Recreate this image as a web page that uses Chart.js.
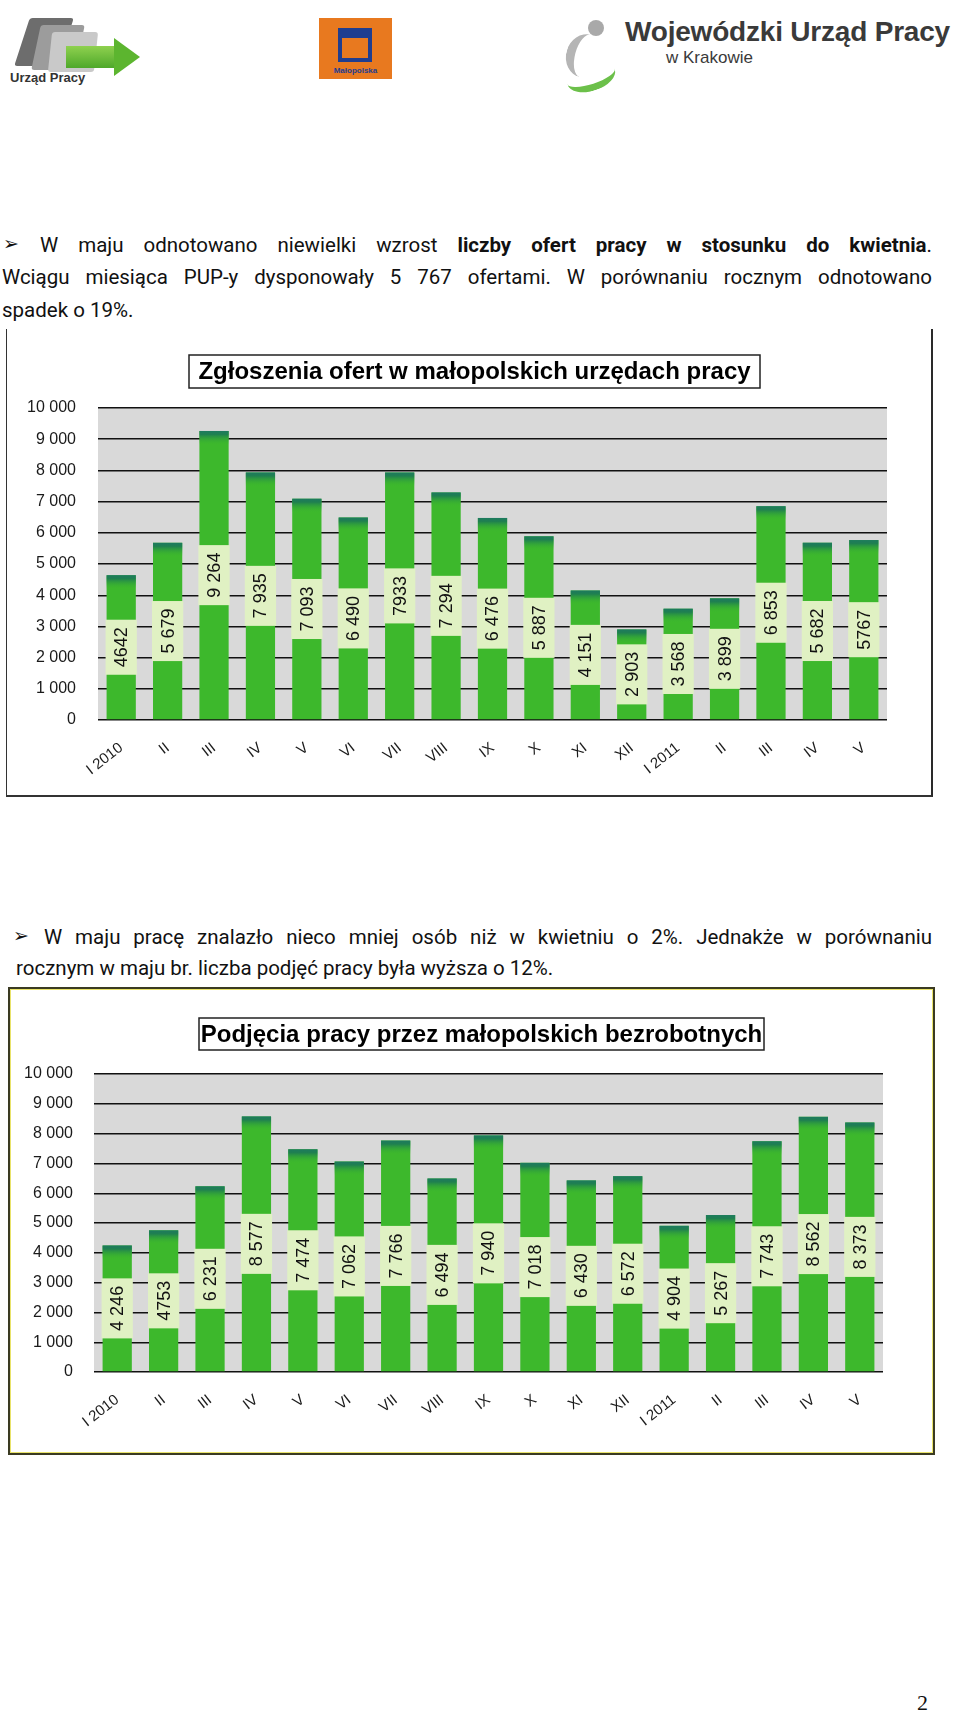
<!DOCTYPE html>
<html lang="pl">
<head>
<meta charset="utf-8">
<title>Oferty i podjęcia pracy</title>
<script src="https://cdn.jsdelivr.net/npm/chart.js@4.4.1/dist/chart.umd.min.js"></script>
<style>
  html, body { margin: 0; padding: 0; background: #fff; }
  body { width: 960px; height: 1719px; position: relative; overflow: hidden; font-family: Roboto, "Liberation Sans", Arial, sans-serif; color: #111; }
  .abs { position: absolute; }
  .line { position: absolute; font-size: 20.5px; white-space: nowrap; text-align: justify; text-align-last: justify; }
  .line.last { text-align-last: left; }
  .bullet { position: absolute; font-family: "DejaVu Sans", sans-serif; font-size: 19px; color: #111; }
  .frame1 { position: absolute; left: 6px; top: 329px; width: 924px; height: 466px; border-left: 1px solid #333; border-right: 2px solid #2a2a2a; border-bottom: 2px solid #333; }
  .frame2 { position: absolute; left: 8px; top: 987px; width: 923px; height: 464px; border: 2px solid #3a3a22; box-shadow: inset 0 0 0 1px #e9e36a; }
  canvas { position: absolute; }
</style>
</head>
<body>

<!-- header logos, rough -->
<div class="abs" style="left:22px;top:18px;width:44px;height:48px;background:#6d6d6d;transform:skewX(-18deg);border-radius:3px;"></div>
<div class="abs" style="left:36px;top:25px;width:44px;height:45px;background:#9c9c9c;transform:skewX(-12deg);border-radius:3px;"></div>
<div class="abs" style="left:50px;top:32px;width:46px;height:40px;background:#c9c9c9;transform:skewX(-6deg);border-radius:3px;"></div>
<div class="abs" style="left:66px;top:46px;width:50px;height:22px;background:linear-gradient(#8fd14f,#4ea82a);"></div>
<div class="abs" style="left:114px;top:38px;width:0;height:0;border-top:19px solid transparent;border-bottom:19px solid transparent;border-left:26px solid #5cb52f;"></div>
<div class="abs" style="left:10px;top:70px;font:bold 13px 'Liberation Sans',Arial;color:#333;">Urząd Pracy</div>

<div class="abs" style="left:319px;top:18px;width:73px;height:61px;background:#e8791f;"></div>
<div class="abs" style="left:338px;top:28px;width:34px;height:34px;border:4px solid #1f3d8f;border-top-width:10px;box-sizing:border-box;"></div>
<div class="abs" style="left:319px;top:66px;width:73px;text-align:center;font:bold 8px 'Liberation Sans',Arial;color:#1f3d8f;">Małopolska</div>

<div class="abs" style="left:588px;top:20px;width:16px;height:16px;border-radius:50%;background:#a9a9a9;"></div>
<div class="abs" style="left:566px;top:34px;width:30px;height:44px;border-left:9px solid #b5b5b5;border-radius:50% 0 0 50%;transform:rotate(15deg);"></div>
<div class="abs" style="left:566px;top:62px;width:50px;height:22px;border-bottom:7px solid #6cc04a;border-radius:0 0 50% 50%;transform:rotate(-18deg);"></div>
<div class="abs" style="left:625px;top:16px;font:bold 28px 'Liberation Sans',Arial;color:#3a3a3a;letter-spacing:-0.2px;">Wojewódzki Urząd Pracy</div>
<div class="abs" style="left:666px;top:48px;font:17px 'Liberation Sans',Arial;color:#3a3a3a;">w Krakowie</div>

<!-- first paragraph -->
<span class="bullet" style="left:3px;top:232px;">➢</span>
<div class="line" style="left:40px;top:233px;width:892px;">W maju odnotowano niewielki wzrost <b>liczby ofert pracy w stosunku do kwietnia</b>.</div>
<div class="line" style="left:2px;top:265px;width:930px;">Wciągu miesiąca PUP-y dysponowały 5 767 ofertami. W porównaniu rocznym odnotowano</div>
<div class="line last" style="left:2px;top:298px;">spadek o 19%.</div>

<div class="frame1"></div>
<canvas id="offersChart" width="922" height="463" style="left:8px;top:331px;"></canvas>

<!-- second paragraph -->
<span class="bullet" style="left:13px;top:924px;">➢</span>
<div class="line" style="left:44px;top:925px;width:888px;">W maju pracę znalazło nieco mniej osób niż w kwietniu o 2%. Jednakże w porównaniu</div>
<div class="line last" style="left:16px;top:956px;">rocznym w maju br. liczba podjęć pracy była wyższa o 12%.</div>

<div class="frame2"></div>
<canvas id="jobsChart" width="922" height="462" style="left:11px;top:990px;"></canvas>

<div class="abs" style="left:917px;top:1690px;font:22px 'Liberation Serif','Times New Roman',serif;">2</div>

<script>
// months, Jan 2010 .. May 2011
const months = ['I 2010', 'II', 'III', 'IV', 'V', 'VI', 'VII', 'VIII', 'IX', 'X', 'XI', 'XII', 'I 2011', 'II', 'III', 'IV', 'V'];

// Zgłoszenia ofert
const offersValues = [4642, 5679, 9264, 7935, 7093, 6490, 7933, 7294, 6476, 5887, 4151, 2903, 3568, 3899, 6853, 5682, 5767];
const offersLabels = ['4642', '5 679', '9 264', '7 935', '7 093', '6 490', '7933', '7 294', '6 476', '5 887', '4 151', '2 903', '3 568', '3 899', '6 853', '5 682', '5767'];

// Podjęcia pracy
const jobsValues = [4246, 4753, 6231, 8577, 7474, 7062, 7766, 6494, 7940, 7018, 6430, 6572, 4904, 5267, 7743, 8562, 8373];
const jobsLabels = ['4 246', '4753', '6 231', '8 577', '7 474', '7 062', '7 766', '6 494', '7 940', '7 018', '6 430', '6 572', '4 904', '5 267', '7 743', '8 562', '8 373'];

const yMin = 0;
const yMax = 10000;
const yStep = 1000;

function fmt(v) {
    return String(v).replace(/\B(?=(\d{3})+(?!\d))/g, ' ');
}

// grey plot background
const plotBg = {
    id: 'plotBg',
    beforeDraw(chart) {
        const a = chart.chartArea;
        const ctx = chart.ctx;
        ctx.save();
        ctx.fillStyle = '#d9d9d9';
        ctx.fillRect(a.left, a.top, a.right - a.left, a.bottom - a.top);
        ctx.restore();
    }
};

// dark top on every bar + the pale value boxes
const barDecor = {
    id: 'barDecor',
    afterDatasetsDraw(chart, args, opts) {
        const ctx = chart.ctx;
        const meta = chart.getDatasetMeta(0);
        const texts = opts.texts || [];
        ctx.save();
        meta.data.forEach((bar, i) => {
            const w = bar.width;
            const g = ctx.createLinearGradient(0, bar.y, 0, bar.y + 14);
            g.addColorStop(0, '#1d7a5f');
            g.addColorStop(0.25, '#1f8050');
            g.addColorStop(1, 'rgba(61,184,44,0)');
            ctx.fillStyle = g;
            ctx.fillRect(bar.x - w / 2, bar.y, w, 14);

            const txt = texts[i];
            if (!txt) return;
            ctx.font = '18px "Liberation Sans", Arial, sans-serif';
            const tw = ctx.measureText(txt).width;
            const bh = tw + 15;
            const cy = (bar.y + bar.base) / 2;
            ctx.fillStyle = '#e0f1c3';
            ctx.fillRect(bar.x - w / 2 - 1, cy - bh / 2, w + 2, bh);
            ctx.translate(bar.x, cy);
            ctx.rotate(-Math.PI / 2);
            ctx.fillStyle = '#111';
            ctx.textAlign = 'center';
            ctx.textBaseline = 'middle';
            ctx.fillText(txt, 0, 1);
            ctx.setTransform(1, 0, 0, 1, 0, 0);
        });
        ctx.restore();
    }
};

// framed title
const titleBox = {
    id: 'titleBox',
    afterDraw(chart, args, opts) {
        const ctx = chart.ctx;
        ctx.save();
        ctx.fillStyle = '#fff';
        ctx.fillRect(opts.x, opts.y, opts.w, opts.h);
        ctx.strokeStyle = '#222';
        ctx.lineWidth = 1.5;
        ctx.strokeRect(opts.x, opts.y, opts.w, opts.h);
        ctx.font = 'bold 24px "Liberation Sans", Arial, sans-serif';
        ctx.fillStyle = '#000';
        ctx.textAlign = 'center';
        ctx.textBaseline = 'middle';
        ctx.fillText(opts.text, opts.x + opts.w / 2, opts.y + opts.h / 2 + 1);
        ctx.restore();
    }
};

function makeChart(id, values, texts, geo) {
    const el = document.getElementById(id);
    return new Chart(el, {
        type: 'bar',
        data: {
            labels: months,
            datasets: [{
                data: values,
                backgroundColor: '#3db82c',
                borderWidth: 0,
                barPercentage: 0.63,
                categoryPercentage: 1.0
            }]
        },
        options: {
            responsive: false,
            animation: false,
            devicePixelRatio: 1,
            layout: { padding: { left: 0, top: geo.top, right: geo.right, bottom: 0 } },
            plugins: {
                legend: { display: false },
                tooltip: { enabled: false },
                barDecor: { texts: texts },
                titleBox: geo.title
            },
            scales: {
                x: {
                    grid: { display: false },
                    border: { display: false },
                    ticks: {
                        autoSkip: false,
                        minRotation: 38,
                        maxRotation: 38,
                        padding: 11,
                        color: '#1a1a1a',
                        font: { family: '"Liberation Sans", Arial, sans-serif', size: 15 }
                    },
                    afterFit(scale) { scale.height = geo.bottom; }
                },
                y: {
                    min: yMin,
                    max: yMax,
                    grid: { color: '#111', lineWidth: 1.4, drawTicks: false },
                    border: { display: false },
                    ticks: {
                        stepSize: yStep,
                        padding: geo.tickPad,
                        color: '#1a1a1a',
                        font: { family: '"Liberation Sans", Arial, sans-serif', size: 16 },
                        callback: v => fmt(v)
                    },
                    afterFit(scale) { scale.width = geo.left; }
                }
            }
        },
        plugins: [plotBg, barDecor, titleBox]
    });
}

makeChart('offersChart', offersValues, offersLabels, {
    left: 90, top: 77, right: 43, bottom: 74, tickPad: 22,
    title: { text: 'Zgłoszenia ofert w małopolskich urzędach pracy', x: 181, y: 24, w: 571, h: 33 }
});

makeChart('jobsChart', jobsValues, jobsLabels, {
    left: 83, top: 84, right: 50, bottom: 80, tickPad: 21,
    title: { text: 'Podjęcia pracy przez małopolskich bezrobotnych', x: 188, y: 28, w: 565, h: 32 }
});
</script>
</body>
</html>
